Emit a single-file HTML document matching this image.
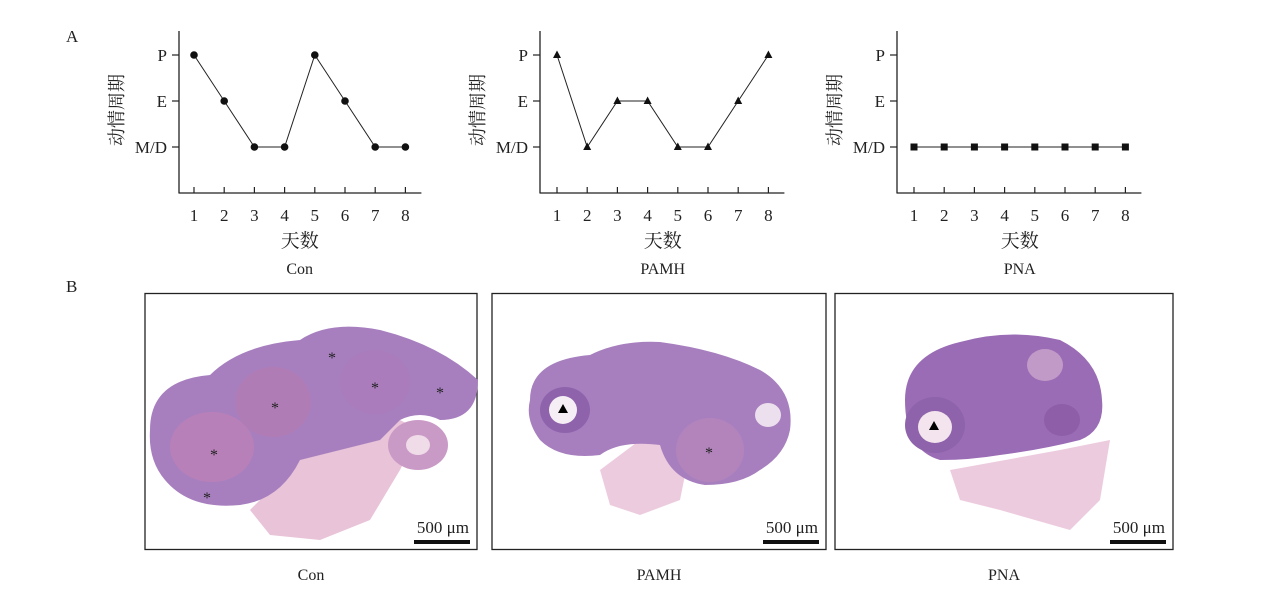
<!DOCTYPE html>
<html><head><meta charset="utf-8"><style>
body{margin:0;background:#fff;}
svg{display:block}
text{font-family:"Liberation Serif","Noto Serif CJK SC",serif;fill:#222}
</style></head><body>
<svg id="s" width="1268" height="599" xmlns="http://www.w3.org/2000/svg">
<text x="66" y="42" font-size="17">A</text>
<text x="66" y="292" font-size="17">B</text>
</svg>
<script>
const s=document.getElementById('s');let h='';
const charts=[{ax:179,x1:194,lab:'Con',m:'c',d:[0,1,2,2,0,1,2,2]},
{ax:540,x1:557,lab:'PAMH',m:'t',d:[0,2,1,1,2,2,1,0]},
{ax:897,x1:914,lab:'PNA',m:'s',d:[2,2,2,2,2,2,2,2]}];
const ys=[55,101,147],yl=['P','E','M/D'];
charts.forEach(c=>{const dx=30.2;const xe=c.x1+7*dx+16;
h+=`<line x1="${c.ax}" y1="31" x2="${c.ax}" y2="193.5" stroke="#222" stroke-width="1.3"/>`;
h+=`<line x1="${c.ax}" y1="193" x2="${xe}" y2="193" stroke="#222" stroke-width="1.3"/>`;
ys.forEach((y,i)=>{h+=`<line x1="${c.ax-7}" y1="${y}" x2="${c.ax}" y2="${y}" stroke="#222" stroke-width="1.2"/>`;
h+=`<text x="${c.ax-12}" y="${y+6}" font-size="17" text-anchor="end">${yl[i]}</text>`;});
h+=`<text transform="translate(${c.ax-56},110) rotate(-90)" font-size="18" text-anchor="middle">动情周期</text>`;
let pts=[];
for(let i=0;i<8;i++){const x=c.x1+i*dx;h+=`<line x1="${x}" y1="187" x2="${x}" y2="193" stroke="#222" stroke-width="1.2"/>`;
h+=`<text x="${x}" y="221" font-size="17" text-anchor="middle">${i+1}</text>`;pts.push([x,ys[c.d[i]]]);}
h+=`<polyline points="${pts.map(p=>p.join(',')).join(' ')}" fill="none" stroke="#222" stroke-width="1"/>`;
pts.forEach(([x,y])=>{if(c.m=='c')h+=`<circle cx="${x}" cy="${y}" r="3.8" fill="#111"/>`;
else if(c.m=='t')h+=`<polygon points="${x},${y-4.5} ${x-4},${y+3} ${x+4},${y+3}" fill="#111"/>`;
else h+=`<rect x="${x-3.5}" y="${y-3.5}" width="7" height="7" fill="#111"/>`;});
const cx=(c.x1+c.x1+7*dx)/2;
h+=`<text x="${cx}" y="247" font-size="19" text-anchor="middle">天数</text>`;
h+=`<text x="${cx}" y="274" font-size="16" text-anchor="middle">${c.lab}</text>`;});
// panel B
const boxes=[[145,477,'Con'],[492,826,'PAMH'],[835,1173,'PNA']];
boxes.forEach(b=>{h+=`<rect x="${b[0]}" y="293.5" width="${b[1]-b[0]}" height="256" fill="#fff" stroke="#222" stroke-width="1.3"/>`;
h+=`<text x="${(b[0]+b[1])/2}" y="580" font-size="16" text-anchor="middle">${b[2]}</text>`;
h+=`<text x="${b[1]-8}" y="533" font-size="17" text-anchor="end">500 μm</text>`;
h+=`<rect x="${b[1]-63}" y="540" width="56" height="4" fill="#111"/>`;});
// tissue blobs
const P='#a77fbf',Pk='#e0a9c8',Pd='#8e63ab';
h+=`<path d="M250,510 L290,470 L310,420 L360,400 L420,430 L400,470 L370,520 L320,540 L270,535 Z" fill="${Pk}" opacity="0.7"/>`;
h+=`<path d="M150,430 Q150,380 210,375 Q240,345 300,340 Q330,320 380,330 Q440,345 478,380 Q478,420 440,420 Q420,410 400,420 L380,440 L300,460 Q280,500 240,505 Q190,510 165,480 Q148,460 150,430Z" fill="${P}"/>`;
h+=`<ellipse cx="212" cy="447" rx="42" ry="35" fill="#b880b8"/><ellipse cx="273" cy="402" rx="38" ry="35" fill="#b07cb6"/><ellipse cx="375" cy="382" rx="35" ry="32" fill="#aa7cbc"/><ellipse cx="418" cy="445" rx="30" ry="25" fill="#c99ac6"/><ellipse cx="418" cy="445" rx="12" ry="10" fill="#f0dbe8"/>`;
[[214,452],[275,405],[332,355],[375,385],[440,390],[207,495]].forEach(p=>h+=`<text x="${p[0]}" y="${p[1]+8}" font-size="16" text-anchor="middle" fill="#000">*</text>`);
h+=`<path d="M600,470 L640,440 L690,450 L680,500 L640,515 L610,505Z" fill="${Pk}" opacity="0.6"/>`;
h+=`<path d="M530,400 Q530,360 590,355 Q620,340 660,342 Q720,350 760,370 Q795,390 790,430 Q785,455 760,470 Q740,485 705,485 Q670,480 660,445 Q620,440 600,455 Q560,460 540,440 Q525,420 530,400Z" fill="${P}"/>`;
h+=`<ellipse cx="565" cy="410" rx="25" ry="23" fill="${Pd}"/><ellipse cx="563" cy="410" rx="14" ry="14" fill="#f5eef5"/><ellipse cx="710" cy="450" rx="34" ry="32" fill="#b384bc"/><ellipse cx="768" cy="415" rx="13" ry="12" fill="#ece0ee"/>`;
h+=`<polygon points="563,404 558,413 568,413" fill="#000"/><text x="709" y="458" font-size="16" text-anchor="middle" fill="#000">*</text>`;
h+=`<path d="M950,470 L1060,450 L1110,440 L1100,500 L1070,530 L1000,510 L960,500Z" fill="${Pk}" opacity="0.6"/>`;
h+=`<path d="M905,400 Q905,355 960,342 Q1010,328 1060,340 Q1100,360 1102,400 Q1105,430 1080,440 Q1040,450 1000,455 Q970,460 940,460 Q905,450 905,400Z" fill="#9a6cb5"/>`;
h+=`<ellipse cx="935" cy="425" rx="30" ry="28" fill="${Pd}"/><ellipse cx="935" cy="427" rx="17" ry="16" fill="#f3e4ee"/><ellipse cx="1045" cy="365" rx="18" ry="16" fill="#c29ac8"/><ellipse cx="1062" cy="420" rx="18" ry="16" fill="#8e5ea8"/>`;
h+=`<polygon points="934,421 929,430 939,430" fill="#000"/>`;
s.insertAdjacentHTML('beforeend',h);
</script>
</body></html>
